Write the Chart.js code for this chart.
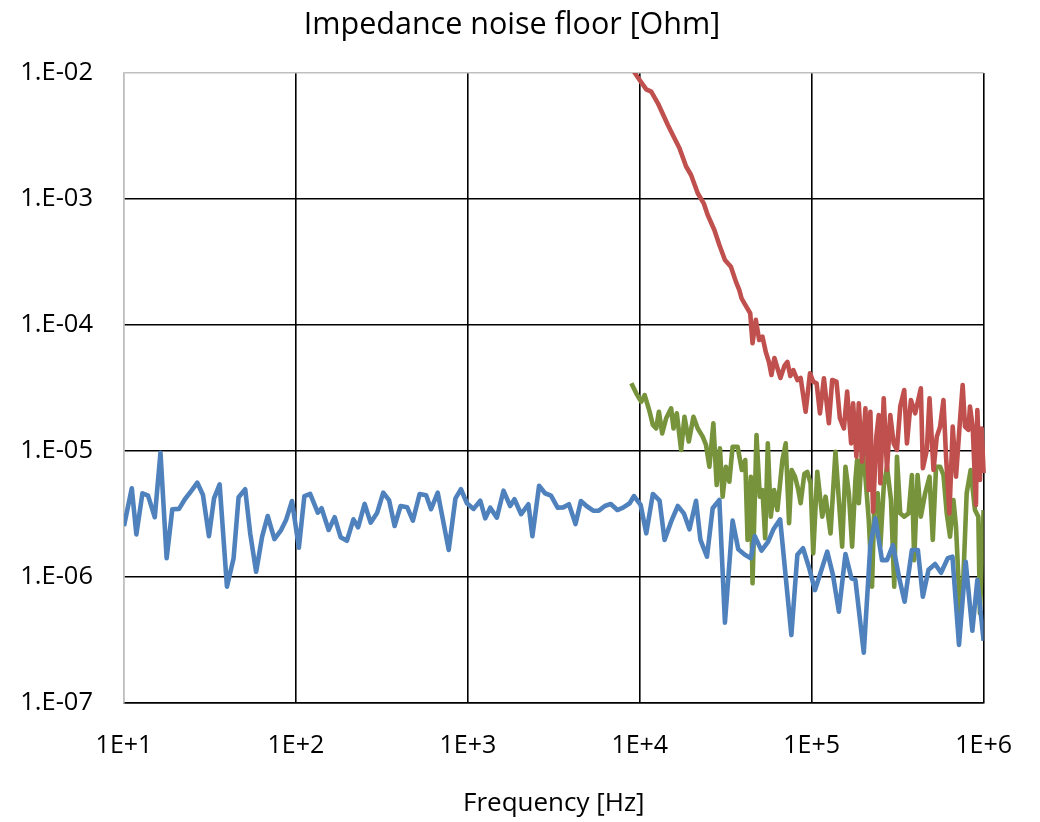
<!DOCTYPE html>
<html>
<head>
<meta charset="utf-8">
<script src="https://cdn.jsdelivr.net/npm/chart.js@4/dist/chart.umd.min.js"></script>
<style>
  html, body { margin: 0; padding: 0; background: #ffffff; }
  #wrap { width: 1040px; height: 822px; }
</style>
</head>
<body>
<div id="wrap"><canvas id="c" width="1040" height="822"></canvas></div>
<script>
// ---- Data ----
const chartTitle = 'Impedance noise floor [Ohm]';
const xTitle = 'Frequency [Hz]';
const xTickValues = [1e1, 1e2, 1e3, 1e4, 1e5, 1e6];
const yTickValues = [1e-7, 1e-6, 1e-5, 1e-4, 1e-3, 1e-2];

const blueFreq = [10, 11.1, 11.8, 12.8, 13.8, 15.1, 16.3, 17.7, 19.1, 20.9, 22.6, 24.7, 26.7, 28.8, 31.2, 33.4, 36.0, 39.7, 43.4, 46.4, 50.7, 54.2, 58.7, 63.6, 68.5, 75.0, 82.0, 87.6, 94.9, 104, 112, 121, 134, 141, 155, 168, 182, 198, 216, 230, 251, 272, 297, 322, 348, 375, 406, 444, 479, 524, 572, 611, 668, 774, 847, 912, 988, 1080, 1181, 1263, 1350, 1475, 1612, 1763, 1867, 2042, 2251, 2374, 2596, 2812, 3046, 3327, 3589, 3874, 4230, 4546, 4898, 5357, 5780, 6261, 6783, 7407, 7992, 8738, 9256, 10120, 10910, 11920, 13040, 13940, 15220, 16640, 18040, 19460, 21250, 22540, 24600, 26550, 29040, 31290, 34670, 37410, 40860, 44260, 46690, 51050, 55830, 59900, 65530, 76170, 82530, 89050, 96470, 104500, 112600, 123100, 132900, 143900, 157200, 170300, 179600, 200900, 219400, 234600, 256400, 274200, 297000, 323100, 347200, 382800, 414600, 443200, 478300, 522400, 565600, 618400, 658800, 719300, 786600, 860000, 919400, 1000000];
const blueVals = [2.54e-6, 5.06e-6, 2.18e-6, 4.62e-6, 4.42e-6, 2.98e-6, 9.69e-6, 1.41e-6, 3.45e-6, 3.47e-6, 4.14e-6, 4.84e-6, 5.60e-6, 4.47e-6, 2.11e-6, 4.21e-6, 5.44e-6, 8.38e-7, 1.41e-6, 4.29e-6, 4.97e-6, 2.22e-6, 1.10e-6, 2.09e-6, 3.05e-6, 2.00e-6, 2.36e-6, 2.83e-6, 4.01e-6, 1.71e-6, 4.39e-6, 4.56e-6, 3.24e-6, 3.51e-6, 2.36e-6, 2.98e-6, 2.07e-6, 1.94e-6, 2.87e-6, 2.48e-6, 3.80e-6, 2.70e-6, 3.24e-6, 4.67e-6, 4.08e-6, 2.54e-6, 3.66e-6, 3.57e-6, 2.80e-6, 4.56e-6, 4.45e-6, 3.45e-6, 4.67e-6, 1.64e-6, 4.21e-6, 4.97e-6, 3.85e-6, 3.47e-6, 4.03e-6, 2.92e-6, 3.55e-6, 2.96e-6, 4.84e-6, 3.66e-6, 4.14e-6, 3.15e-6, 3.78e-6, 2.11e-6, 5.30e-6, 4.62e-6, 4.42e-6, 3.55e-6, 3.57e-6, 3.78e-6, 2.63e-6, 4.01e-6, 3.66e-6, 3.36e-6, 3.36e-6, 3.66e-6, 3.80e-6, 3.40e-6, 3.55e-6, 3.85e-6, 4.39e-6, 3.73e-6, 2.22e-6, 4.56e-6, 4.03e-6, 1.97e-6, 2.75e-6, 3.66e-6, 3.20e-6, 2.39e-6, 4.03e-6, 1.97e-6, 1.45e-6, 3.51e-6, 4.08e-6, 4.34e-7, 2.80e-6, 1.66e-6, 1.50e-6, 1.41e-6, 2.11e-6, 1.62e-6, 1.91e-6, 2.39e-6, 2.87e-6, 3.46e-7, 1.50e-6, 1.69e-6, 1.19e-6, 7.88e-7, 1.08e-6, 1.59e-6, 1.04e-6, 5.30e-7, 1.52e-6, 9.77e-7, 9.47e-7, 2.51e-7, 1.79e-6, 2.92e-6, 1.36e-6, 1.36e-6, 1.79e-6, 9.77e-7, 6.37e-7, 1.64e-6, 1.64e-6, 6.98e-7, 1.14e-6, 1.27e-6, 1.08e-6, 1.41e-6, 1.45e-6, 2.89e-7, 1.32e-6, 3.75e-7, 9.47e-7, 3.12e-7];

const redFreq = [8770, 9980, 10910, 11660, 12750, 14570, 15570, 17030, 18600, 19880, 21740, 23550, 24840, 27160, 29040, 31290, 33890, 36230, 37900, 39090, 40530, 43900, 45280, 47320, 49520, 51740, 54070, 56410, 58340, 60710, 63180, 65780, 69390, 72220, 75160, 78230, 82530, 86230, 92200, 97750, 102100, 106800, 111700, 117800, 125900, 131600, 139400, 145900, 153900, 160800, 169600, 174200, 182000, 187900, 196500, 205300, 214800, 219400, 227500, 237700, 245500, 250800, 262400, 274200, 286500, 299800, 313300, 327400, 345300, 358100, 377700, 400000, 431500, 443200, 467500, 484600, 511100, 534300, 558300, 584100, 604700, 632700, 661200, 691000, 729000, 755400, 779400, 815400, 832900, 863800, 902600, 919400, 952000, 973700, 1000000];
const redVals = [1.14e-2, 8.80e-3, 7.42e-3, 7.11e-3, 5.75e-3, 3.87e-3, 3.22e-3, 2.53e-3, 1.81e-3, 1.55e-3, 1.11e-3, 9.24e-4, 7.46e-4, 5.67e-4, 4.31e-4, 3.28e-4, 2.90e-4, 2.21e-4, 1.90e-4, 1.63e-4, 1.49e-4, 1.24e-4, 7.16e-5, 1.10e-4, 7.60e-5, 8.07e-5, 6.10e-5, 5.09e-5, 4.01e-5, 5.47e-5, 4.56e-5, 3.80e-5, 4.73e-5, 5.09e-5, 3.94e-5, 4.39e-5, 3.66e-5, 3.80e-5, 2.05e-5, 4.14e-5, 3.55e-5, 3.45e-5, 1.99e-5, 3.78e-5, 1.66e-5, 3.66e-5, 3.55e-5, 1.82e-5, 1.51e-5, 2.96e-5, 1.15e-5, 2.39e-5, 9.01e-6, 2.39e-5, 8.22e-6, 2.18e-5, 4.90e-6, 2.05e-5, 3.30e-6, 1.30e-5, 1.93e-5, 5.54e-6, 2.62e-5, 7.07e-6, 1.93e-5, 1.15e-5, 1.02e-5, 2.25e-5, 3.05e-5, 1.15e-5, 2.54e-5, 1.99e-5, 3.15e-5, 7.29e-6, 1.02e-5, 2.62e-5, 7.07e-6, 1.30e-5, 1.56e-5, 2.54e-5, 9.01e-6, 3.20e-6, 1.56e-5, 6.25e-6, 1.76e-5, 3.34e-5, 1.56e-5, 1.47e-5, 2.25e-5, 1.56e-5, 3.73e-6, 2.11e-5, 5.89e-6, 1.51e-5, 6.69e-6];

const greenFreq = [8930, 9540, 10200, 10680, 11410, 11920, 12460, 12920, 13500, 14240, 15220, 15720, 16420, 17400, 18200, 19280, 20530, 21740, 23230, 24280, 25410, 26800, 28010, 29270, 30340, 31710, 33190, 34670, 37070, 39260, 41080, 42360, 44260, 45280, 47750, 49910, 51740, 53630, 55550, 57800, 60470, 63180, 67560, 70610, 73860, 76460, 80020, 83630, 86230, 90600, 94300, 98500, 102100, 107800, 115200, 120400, 128700, 137500, 143900, 150400, 157200, 164500, 171900, 179600, 183700, 187900, 196500, 205300, 214800, 224400, 231400, 242100, 250800, 262400, 274200, 289200, 302200, 313300, 327400, 345300, 366300, 382800, 394700, 412900, 431500, 457000, 484600, 506300, 529100, 558300, 584100, 610400, 637900, 667300, 691000, 729000, 762700, 797000, 841000, 890500, 931800, 952000, 1000000];
const greenVals = [3.45e-5, 2.87e-5, 2.46e-5, 2.78e-5, 2.05e-5, 1.61e-5, 1.51e-5, 2.05e-5, 1.38e-5, 1.82e-5, 2.18e-5, 1.51e-5, 1.99e-5, 1.02e-5, 1.87e-5, 1.19e-5, 1.87e-5, 1.51e-5, 1.30e-5, 1.12e-5, 7.50e-6, 1.66e-5, 5.37e-6, 1.05e-5, 4.34e-6, 7.50e-6, 5.71e-6, 1.08e-5, 1.08e-5, 7.07e-6, 8.48e-6, 1.97e-6, 6.25e-6, 8.91e-7, 1.34e-5, 4.34e-6, 4.90e-6, 2.03e-6, 1.15e-5, 3.01e-6, 4.90e-6, 3.40e-6, 8.48e-6, 1.15e-5, 2.67e-6, 7.07e-6, 6.25e-6, 4.90e-6, 3.85e-6, 6.57e-6, 6.81e-6, 5.54e-6, 1.54e-6, 6.85e-6, 3.01e-6, 4.34e-6, 2.22e-6, 9.87e-6, 4.08e-6, 1.74e-6, 7.50e-6, 4.62e-6, 1.74e-6, 5.89e-6, 8.48e-6, 3.85e-6, 1.02e-5, 6.25e-6, 2.83e-6, 8.38e-7, 3.85e-6, 4.62e-6, 1.74e-6, 5.21e-6, 7.50e-6, 4.08e-6, 8.38e-7, 9.01e-6, 3.20e-6, 3.01e-6, 3.20e-6, 6.45e-6, 1.36e-6, 6.45e-6, 3.01e-6, 4.62e-6, 6.25e-6, 1.97e-6, 7.50e-6, 7.50e-6, 6.45e-6, 3.20e-6, 2.09e-6, 4.08e-6, 2.51e-6, 5.15e-7, 1.0e-6, 4.62e-6, 7.07e-6, 3.40e-6, 3.01e-6, 5.15e-7, 3.40e-6];

// ---- Chart ----
const FONT = "'Open Sans', 'DejaVu Sans', sans-serif";
Chart.defaults.font.family = FONT;
Chart.defaults.color = '#000000';

function pts(fs, vs) { return fs.map((f, i) => ({ x: f, y: vs[i] })); }
function expOf(v) { return Math.round(Math.log10(v)); }
function pad2(n) { return (n < 10 ? '0' : '') + n; }

const lineCommon = { pointRadius: 0, borderWidth: 4.6, tension: 0, fill: false, borderJoinStyle: 'round', borderCapStyle: 'butt' };

new Chart(document.getElementById('c'), {
  type: 'line',
  data: {
    datasets: [
      Object.assign({ label: 'blue', data: pts(blueFreq, blueVals), borderColor: '#4F81BD' }, lineCommon),
      Object.assign({ label: 'red', data: pts(redFreq, redVals), borderColor: '#C0504D', clip: { left: 5, top: 0, right: 5, bottom: 5 } }, lineCommon),
      Object.assign({ label: 'green', data: pts(greenFreq, greenVals), borderColor: '#77933C' }, lineCommon)
    ]
  },
  options: {
    responsive: false,
    animation: false,
    devicePixelRatio: 1,
    layout: { padding: { left: 0, right: 16, top: 0, bottom: 0 } },
    plugins: {
      legend: { display: false },
      tooltip: { enabled: false },
      title: {
        display: true, text: chartTitle, color: '#000000',
        font: { family: FONT, size: 30.5, weight: 'normal' },
        padding: { top: 7, bottom: 29.4 }
      }
    },
    scales: {
      x: {
        type: 'logarithmic', position: 'bottom', min: 10, max: 1e6,
        afterBuildTicks: (s) => { s.ticks = xTickValues.map(v => ({ value: v })); },
        afterFit: (s) => { s.height = 119; },
        ticks: {
          callback: (v) => '1E+' + expOf(v),
          color: '#000000', font: { size: 25 }, padding: 28,
          maxRotation: 0, minRotation: 0, autoSkip: false
        },
        grid: {
          drawTicks: false, lineWidth: 1.6,
          color: (ctx) => (ctx.tick && ctx.tick.value === 10) ? '#bfbfbf' : '#000000'
        },
        border: { display: true, color: '#000000', width: 1.6 },
        title: {
          display: true, text: xTitle, color: '#000000',
          font: { size: 26, weight: 'normal' }, padding: { top: 0, bottom: 3 }
        }
      },
      y: {
        type: 'logarithmic', position: 'left', min: 1e-7, max: 1e-2,
        afterBuildTicks: (s) => { s.ticks = yTickValues.map(v => ({ value: v })); },
        afterFit: (s) => { s.width = 124; },
        ticks: {
          callback: (v) => { const e = expOf(v); return '1.E' + (e < 0 ? '-' : '+') + pad2(Math.abs(e)); },
          color: '#000000', font: { size: 25.5 }, padding: 31, autoSkip: false
        },
        grid: {
          drawTicks: false, lineWidth: 1.6,
          color: (ctx) => (ctx.tick && ctx.tick.value === 1e-2) ? '#bfbfbf' : '#000000'
        },
        border: { display: true, color: '#bfbfbf', width: 1.6 }
      },
      yPad: {
        type: 'linear', position: 'right', display: true,
        afterFit: (s) => { s.width = 28; },
        ticks: { display: false },
        grid: { display: false, drawOnChartArea: false, drawTicks: false },
        border: { display: false }
      }
    }
  }
});
</script>
</body>
</html>
